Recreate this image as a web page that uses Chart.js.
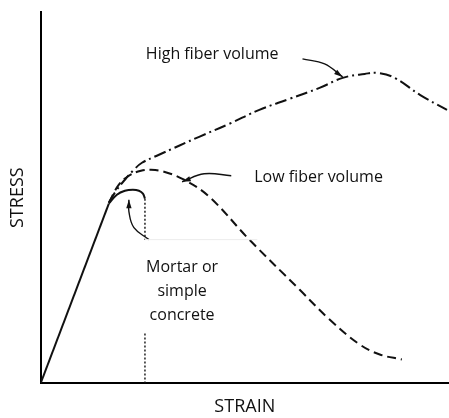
<!DOCTYPE html>
<html>
<head>
<meta charset="utf-8">
<script src="https://cdn.jsdelivr.net/npm/chart.js@4/dist/chart.umd.min.js"></script>
<style>
  html, body { margin: 0; padding: 0; background: #fff; }
  #wrap { width: 449px; height: 418px; }
</style>
</head>
<body>
<div id="wrap"><canvas id="c"></canvas></div>
<script>
// values (strain, stress in arbitrary units)
var elasticPart = [[0, 0], [68, 180]];
var mortarCurve = [[68, 180], [76, 189], [84, 193], [92, 194], [98, 193], [102, 190], [104, 185]];
var mortarDrop = [[104, 185], [104, 144]];
var mortarDropLow = [[104, 50], [104, 0]];
var lowFiber = [[68, 181], [78, 199], [88, 208], [100, 213], [110, 214], [123, 212], [143, 204],
    [168, 187], [208, 144], [258, 94], [288, 64], [318, 39], [338, 29], [360, 24]];
var highFiber = [[68, 181], [76, 194], [84, 204], [93, 214], [101, 221], [118, 229], [158, 247],
    [188, 260], [218, 274], [248, 285], [278, 296], [301, 306], [323, 310], [336, 311],
    [353, 306], [378, 289], [405, 274]];
var faintLine = [[104, 144], [216, 144]];

var arrowHigh = [[261, 325], [283, 320], [301, 307]];
var arrowLow = [[190, 208], [163, 210], [141, 202]];
var arrowMortar = [[108, 144], [93, 156], [88, 172], [88, 184]];

var labels = [
    { text: 'High fiber volume', at: [171, 329] },
    { text: 'Low fiber volume', at: [277, 206] },
    { text: 'Mortar or', at: [141, 116] },
    { text: 'simple', at: [141, 92] },
    { text: 'concrete', at: [141, 68] }
];

var ink = '#111';
var font = '"Open Sans"';

function pts(arr) {
    return arr.map(function (p) { return { x: p[0], y: p[1] }; });
}

function line(arr, dash, width, tension, color) {
    return {
        data: pts(arr),
        showLine: true,
        borderColor: color || ink,
        borderWidth: width,
        borderDash: dash,
        pointRadius: 0,
        tension: tension,
        fill: false
    };
}

var arrowHeads = {
    id: 'arrowHeads',
    afterDatasetsDraw: function (chart) {
        var ctx = chart.ctx, xs = chart.scales.x, ys = chart.scales.y;
        ctx.save();
        ctx.fillStyle = ink;
        [arrowHigh, arrowLow, arrowMortar].forEach(function (a) {
            var p = a[a.length - 1], q = a[a.length - 2];
            var x1 = xs.getPixelForValue(p[0]), y1 = ys.getPixelForValue(p[1]);
            var x0 = xs.getPixelForValue(q[0]), y0 = ys.getPixelForValue(q[1]);
            var ang = Math.atan2(y1 - y0, x1 - x0);
            ctx.beginPath();
            ctx.moveTo(x1, y1);
            ctx.lineTo(x1 - 9 * Math.cos(ang - 0.3), y1 - 9 * Math.sin(ang - 0.3));
            ctx.lineTo(x1 - 9 * Math.cos(ang + 0.3), y1 - 9 * Math.sin(ang + 0.3));
            ctx.closePath();
            ctx.fill();
        });
        ctx.font = '16px ' + font;
        ctx.fillStyle = '#111';
        ctx.textAlign = 'center';
        ctx.textBaseline = 'middle';
        labels.forEach(function (l) {
            ctx.fillText(l.text, xs.getPixelForValue(l.at[0]), ys.getPixelForValue(l.at[1]));
        });
        ctx.restore();
    }
};

var whiteBg = {
    id: 'whiteBg',
    beforeDraw: function (chart) {
        var ctx = chart.ctx;
        ctx.save();
        ctx.fillStyle = '#fff';
        ctx.fillRect(0, 0, chart.width, chart.height);
        ctx.restore();
    }
};

new Chart(document.getElementById('c'), {
    type: 'scatter',
    data: {
        datasets: [
            line(faintLine, [], 1, 0, '#ececec'),
            line(elasticPart, [], 2, 0),
            line(mortarCurve, [], 2, 0.4),
            line(mortarDrop, [2, 2], 1.4, 0),
            line(mortarDropLow, [2, 2], 1.4, 0),
            line(lowFiber, [9, 5], 2, 0.4),
            line(highFiber, [12, 4, 2, 4], 2, 0.4),
            line(arrowHigh, [], 1.4, 0.4),
            line(arrowLow, [], 1.4, 0.4),
            line(arrowMortar, [], 1.4, 0.4)
        ]
    },
    options: {
        responsive: true,
        maintainAspectRatio: false,
        animation: false,
        layout: { padding: { top: 12, right: 0, left: 0, bottom: 0 } },
        plugins: { legend: { display: false }, tooltip: { enabled: false } },
        scales: {
            x: {
                type: 'linear', min: 0, max: 407,
                grid: { display: false, drawTicks: false },
                border: { display: true, color: '#000', width: 2 },
                ticks: { display: false },
                title: { display: true, text: 'STRAIN', color: '#111',
                    font: { family: font, size: 18 }, padding: { top: 13, bottom: 0 } }
            },
            y: {
                type: 'linear', min: 0, max: 372,
                grid: { display: false, drawTicks: false },
                border: { display: true, color: '#000', width: 2 },
                ticks: { display: false },
                title: { display: true, text: 'STRESS', color: '#111',
                    font: { family: font, size: 18 }, padding: { top: 7, bottom: 12 } }
            }
        }
    },
    plugins: [whiteBg, arrowHeads]
});
</script>
</body>
</html>
